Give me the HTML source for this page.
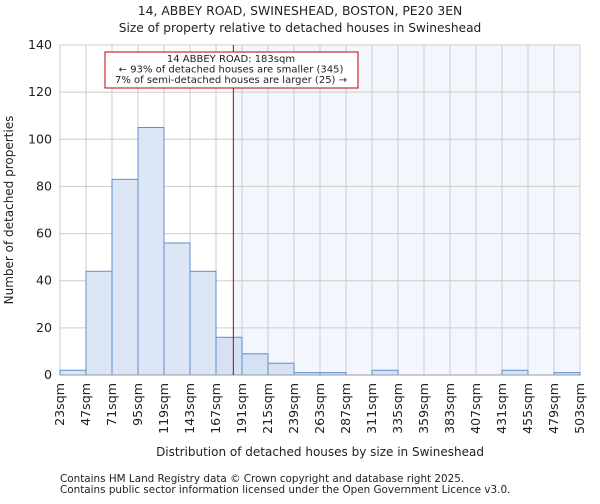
<!DOCTYPE html>
<html><head><meta charset="utf-8"><style>
body{margin:0;background:#fff;font-family:"DejaVu Sans","Liberation Sans",sans-serif;}
svg text{font-family:"DejaVu Sans","Liberation Sans",sans-serif;fill:#222;}
</style></head><body>
<svg id="chart" width="600" height="500" viewBox="0 0 600 500" xmlns="http://www.w3.org/2000/svg">
<text x="300" y="15" text-anchor="middle" font-size="12.4">14, ABBEY ROAD, SWINESHEAD, BOSTON, PE20 3EN</text>
<text x="300" y="32" text-anchor="middle" font-size="12.2">Size of property relative to detached houses in Swineshead</text>
<g id="grid"></g>
<g id="bars"></g>
<g id="axes"></g>
<text transform="translate(13,210) rotate(-90)" text-anchor="middle" font-size="12">Number of detached properties</text>
<text x="320" y="456" text-anchor="middle" font-size="12">Distribution of detached houses by size in Swineshead</text>
<text x="60" y="482" font-size="10.4" fill="#444">Contains HM Land Registry data © Crown copyright and database right 2025.</text>
<text x="60" y="493" font-size="10.4" fill="#444">Contains public sector information licensed under the Open Government Licence v3.0.</text>
</svg>
<script>
const binStarts=[23,47,71,95,119,143,167,191,215,239,263,287,311,335,359,383,407,431,455,479];
const counts=[2,44,83,105,56,44,16,9,5,1,1,0,2,0,0,0,0,2,0,1];
const tickLabels=["23sqm","47sqm","71sqm","95sqm","119sqm","143sqm","167sqm","191sqm","215sqm","239sqm","263sqm","287sqm","311sqm","335sqm","359sqm","383sqm","407sqm","431sqm","455sqm","479sqm","503sqm"];
const yTicks=[0,20,40,60,80,100,120,140];
const propertySize=183;
const annotationLines=["14 ABBEY ROAD: 183sqm","← 93% of detached houses are smaller (345)","7% of semi-detached houses are larger (25) →"];
const NS="http://www.w3.org/2000/svg";
const L=60,R=580,T=45,B=375,xMin=23,xMax=503,yMax=140;
const x=v=>L+(v-xMin)/(xMax-xMin)*(R-L);
const y=v=>B-v/yMax*(B-T);
function mk(tag,attrs,parent){const e=document.createElementNS(NS,tag);for(const k in attrs)e.setAttribute(k,attrs[k]);parent.appendChild(e);return e;}
const grid=document.getElementById('grid'),bars=document.getElementById('bars'),axes=document.getElementById('axes');
const sh=mk('rect',{x:x(propertySize),y:T,width:R-x(propertySize),height:B-T,fill:'#f3f6fd'},grid);


tickLabels.forEach((t,i)=>{const v=xMin+24*i;const g=mk('line',{x1:x(v),x2:x(v),y1:T,y2:B,stroke:'#cccccc','stroke-width':1},grid);


const lb=mk('text',{transform:`translate(${x(v)+4},${B+8}) rotate(-90)`,'text-anchor':'end','font-size':12.6},axes);lb.textContent=t;

});
yTicks.forEach(v=>{const g=mk('line',{x1:L,x2:R,y1:y(v),y2:y(v),stroke:'#cccccc','stroke-width':1},grid);


const lb=mk('text',{x:L-8,y:y(v)+4,'text-anchor':'end','font-size':12.6},axes);lb.textContent=v;

});
binStarts.forEach((s,i)=>{if(counts[i]<=0)return;const r=mk('rect',{x:x(s),y:y(counts[i]),width:x(s+24)-x(s),height:B-y(counts[i]),fill:s+24>propertySize?'#d6e2f3':'#dce6f4',stroke:'#5b8fd6','stroke-width':1},bars);

});
const ax=mk('line',{x1:L,x2:R,y1:B,y2:B,stroke:'#999','stroke-width':1},axes);


const ml=mk('line',{x1:x(propertySize),x2:x(propertySize),y1:T,y2:B,stroke:'#b00000','stroke-width':1},axes);


const box=mk('rect',{x:105,y:52,width:253,height:36,fill:'#fff',stroke:'#c00000','stroke-width':1},axes);


annotationLines.forEach((t,i)=>{const tx=mk('text',{x:231,y:62+i*10.5,'text-anchor':'middle','font-size':10,textLength:i==0?'':'',},axes);tx.removeAttribute('textLength');tx.textContent=t;

});
</script>
</body></html>
